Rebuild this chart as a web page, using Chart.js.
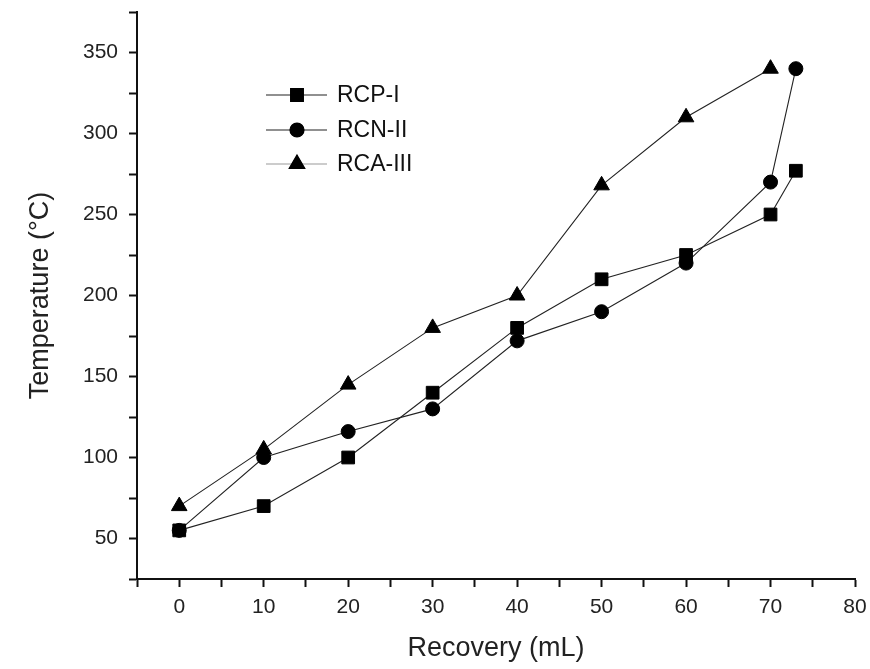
<!DOCTYPE html>
<html>
<head>
<meta charset="utf-8">
<script src="https://cdn.jsdelivr.net/npm/chart.js@4"></script>
<style>
  html, body { margin: 0; padding: 0; background: #fff; }
  #wrap { width: 870px; height: 669px; }
</style>
</head>
<body>
<div id="wrap"><canvas id="tempChart" width="870" height="669"></canvas></div>
<script>
const seriesNames = ['RCP-I', 'RCN-II', 'RCA-III'];
const rcpX = [0, 10, 20, 30, 40, 50, 60, 70, 73];
const rcpY = [55, 70, 100, 140, 180, 210, 225, 250, 277];
const rcnX = [0, 10, 20, 30, 40, 50, 60, 70, 73];
const rcnY = [55, 100, 116, 130, 172, 190, 220, 270, 340];
const rcaX = [0, 10, 20, 30, 40, 50, 60, 70];
const rcaY = [70, 105, 145, 180, 200, 268, 310, 340];

const toPoints = (xs, ys) => xs.map((x, i) => ({ x: x, y: ys[i] }));
const fontFam = 'Arial, "Liberation Sans", sans-serif';

// legend drawn inside the plot, like the original
const insideLegend = {
  id: 'insideLegend',
  afterDraw(chart) {
    const ctx = chart.ctx;
    const rows = [95, 130, 164];
    const lineCols = ['#222', '#222', '#999'];
    ctx.save();
    chart.data.datasets.forEach((ds, i) => {
      const y = rows[i];
      ctx.strokeStyle = lineCols[i];
      ctx.lineWidth = 1.2;
      ctx.beginPath();
      ctx.moveTo(266, y);
      ctx.lineTo(327, y);
      ctx.stroke();
      ctx.fillStyle = '#000';
      ctx.strokeStyle = '#000';
      Chart.helpers.drawPoint(ctx, { pointStyle: ds.pointStyle, radius: ds.pointRadius, borderWidth: 1 }, 297, y);
      ctx.fill();
      ctx.fillStyle = '#111';
      ctx.font = '23px ' + fontFam;
      ctx.textBaseline = 'middle';
      ctx.fillText(ds.label, 337, y + 1);
    });
    ctx.restore();
  }
};

new Chart(document.getElementById('tempChart'), {
  type: 'line',
  data: {
    datasets: [
      { label: seriesNames[0], data: toPoints(rcpX, rcpY), pointStyle: 'rect', pointRadius: 9 },
      { label: seriesNames[1], data: toPoints(rcnX, rcnY), pointStyle: 'circle', pointRadius: 7 },
      { label: seriesNames[2], data: toPoints(rcaX, rcaY), pointStyle: 'triangle', pointRadius: 9 }
    ].map(ds => Object.assign(ds, {
      borderColor: '#222',
      borderWidth: 1.1,
      backgroundColor: '#000',
      pointBackgroundColor: '#000',
      pointBorderColor: '#000',
      pointBorderWidth: 1,
      tension: 0,
      fill: false
    }))
  },
  options: {
    responsive: false,
    animation: false,
    layout: { padding: { top: 12, right: 15, left: 20, bottom: 0 } },
    plugins: { legend: { display: false }, tooltip: { enabled: false } },
    scales: {
      x: {
        type: 'linear',
        min: -5,
        max: 80,
        afterFit(scale) {
          scale.height = 90;
          scale.paddingLeft = 0;
          scale.paddingRight = 0;
        },
        afterBuildTicks(scale) {
          const t = [];
          for (let v = -5; v <= 80; v += 5) t.push({ value: v });
          scale.ticks = t;
        },
        border: { color: '#111', width: 2 },
        grid: { drawOnChartArea: false, tickLength: 8, color: '#111', tickWidth: 2 },
        ticks: {
          color: '#222',
          padding: 8,
          font: { size: 21, family: fontFam },
          callback: v => (v % 10 === 0 ? v : '')
        },
        title: {
          display: true,
          text: 'Recovery (mL)',
          color: '#222',
          font: { size: 27, family: fontFam }
        }
      },
      y: {
        type: 'linear',
        min: 25,
        max: 375,
        afterFit(scale) {
          scale.width = 117;
          scale.paddingTop = 0;
          scale.paddingBottom = 0;
        },
        afterBuildTicks(scale) {
          const t = [];
          for (let v = 25; v <= 375; v += 25) t.push({ value: v });
          scale.ticks = t;
        },
        border: { color: '#111', width: 2 },
        grid: { drawOnChartArea: false, tickLength: 8, color: '#111', tickWidth: 2 },
        ticks: {
          color: '#222',
          padding: 11,
          font: { size: 21, family: fontFam },
          callback: v => (v % 50 === 0 ? v : '')
        },
        title: {
          display: true,
          text: 'Temperature (°C)',
          color: '#222',
          font: { size: 27, family: fontFam }
        }
      }
    }
  },
  plugins: [insideLegend]
});
</script>
</body>
</html>
